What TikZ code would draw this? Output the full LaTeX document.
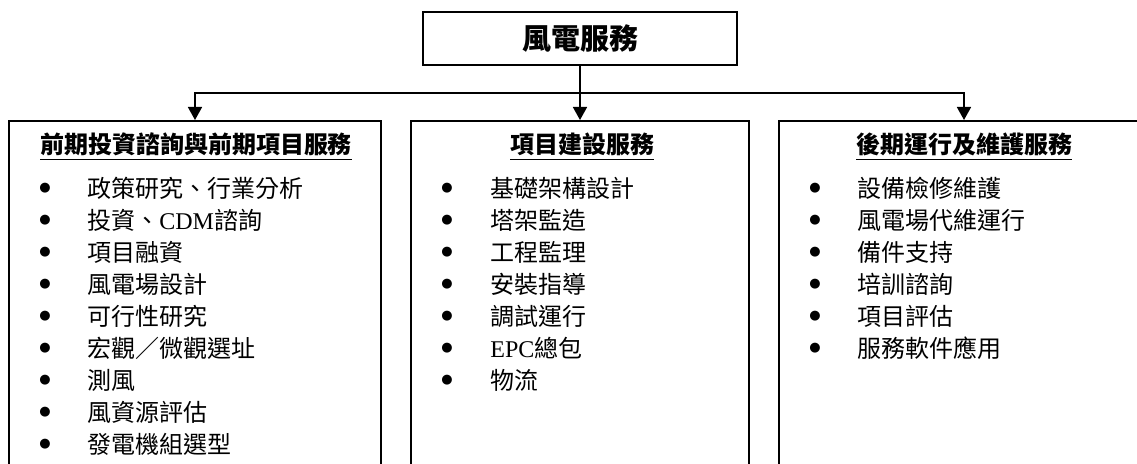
\documentclass[tikz,border=0pt]{standalone}
\usepackage{fontspec}
\newfontfamily\cjk{Noto Sans CJK TC}
\newfontfamily\lat{Liberation Serif}
\newfontfamily\sym{DejaVu Sans}
\usetikzlibrary{arrows.meta, positioning}

\begin{document}
\begin{tikzpicture}[x=0.5pt, y=-0.5pt,
  topbox/.style={draw, line width=1pt, minimum width=157pt, minimum height=26.5pt, inner sep=0pt, font=\cjk\bfseries\fontsize{14.5}{17}\selectfont},
  colbox/.style={draw, line width=1pt, minimum height=250pt, anchor=north, inner sep=0pt},
  boxtitle/.style={anchor=base, inner sep=0pt, font=\cjk\bfseries\fontsize{12}{14}\selectfont},
  dot/.style={inner sep=0pt, font=\sym\fontsize{6.5}{7}\selectfont},
  item/.style={anchor=west, inner sep=0pt, font=\cjk\fontsize{12}{14}\selectfont},
  conn/.style={line width=0.8pt, -{Triangle[width=7pt, length=6.5pt]}}]
  \useasboundingbox (0,0) rectangle (1137,464);
  \clip (0,0) rectangle (1137,464);

  \node[topbox] (wind) at (580,38.5) {風電服務};

  \node[colbox, minimum width=186pt] (pre) at (195,120) {};
  \node[colbox, minimum width=169pt] (build) at (580,120) {};
  \node[colbox, minimum width=185pt] (post) at (964,120) {};

  \coordinate (bus) at (580,93);
  \draw[conn] (wind) -- (build);
  \draw[conn] (bus) -| (pre.north);
  \draw[conn] (bus) -| (post.north);

  % titles
  \node[boxtitle] (pre-t) at (196,154) {\underline{前期投資諮詢與前期項目服務}};
  \node[boxtitle] (build-t) at (582,154) {\underline{項目建設服務}};
  \node[boxtitle] (post-t) at (964,154) {\underline{後期運行及維護服務}};

  % items
  \foreach \txt [count=\i] in {政策研究、行業分析, 投資、{\lat CDM}諮詢, 項目融資, 風電場設計, 可行性研究, 宏觀／微觀選址, 測風, 風資源評估, 發電機組選型} {
    \node[dot] (pre-b\i) at (45,156+32*\i) {●};
    \node[item] (pre-\i) at (87,156+32*\i) {\txt};
  }
  \foreach \txt [count=\i] in {基礎架構設計, 塔架監造, 工程監理, 安裝指導, 調試運行, {\lat EPC}總包, 物流} {
    \node[dot] (build-b\i) at (447,156+32*\i) {●};
    \node[item] (build-\i) at (490,156+32*\i) {\txt};
  }
  \foreach \txt [count=\i] in {設備檢修維護, 風電場代維運行, 備件支持, 培訓諮詢, 項目評估, 服務軟件應用} {
    \node[dot] (post-b\i) at (815,156+32*\i) {●};
    \node[item] (post-\i) at (857,156+32*\i) {\txt};
  }
\end{tikzpicture}
\end{document}
